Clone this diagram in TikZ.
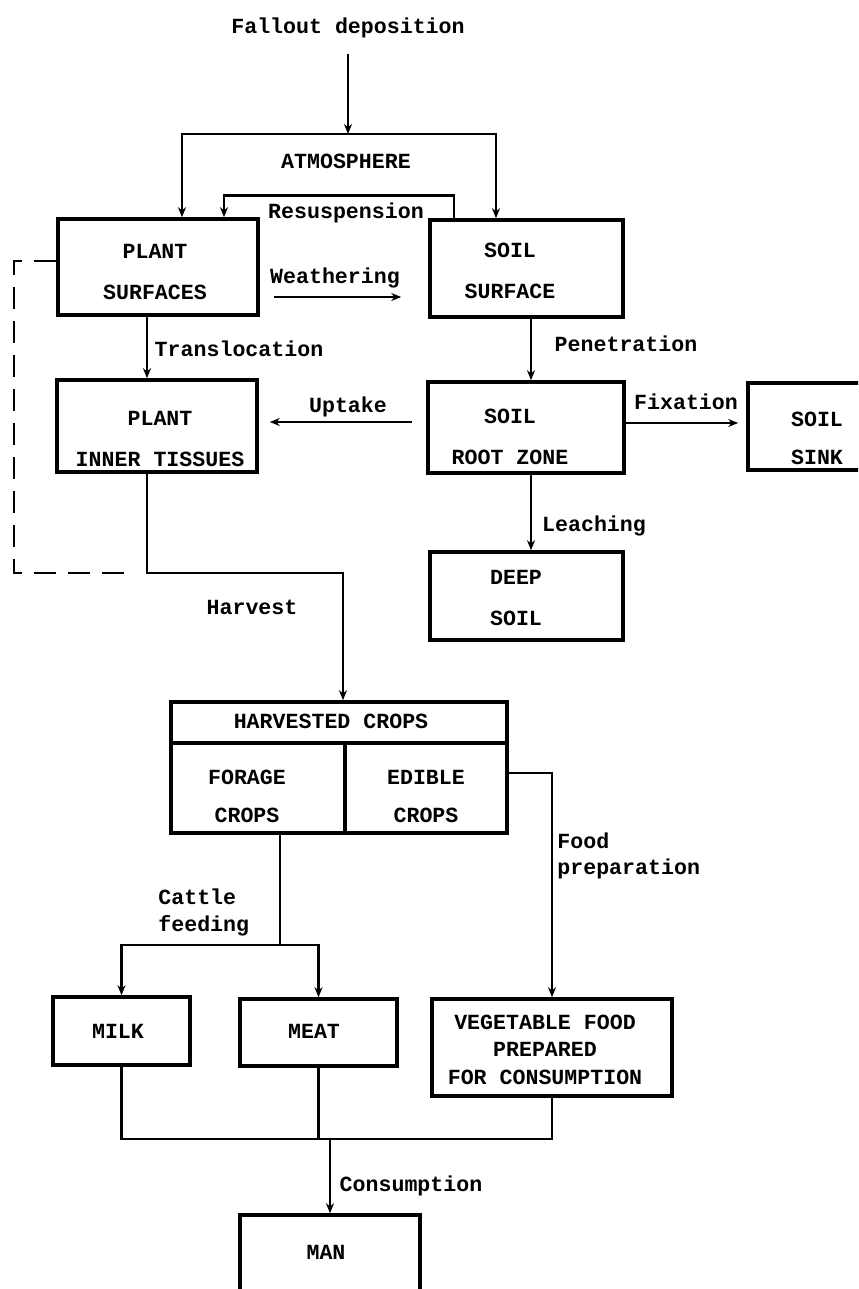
\documentclass[tikz,border=0pt]{standalone}
\usepackage{fontspec}
\newfontfamily\diagfont{Liberation Mono}
\usetikzlibrary{arrows.meta}
\begin{document}
\begin{tikzpicture}[x=0.5pt,y=-0.5pt,
  lsp/.style={font=\diagfont\bfseries\fontsize{10.8}{#1}\selectfont},
  every node/.style={lsp=20.5pt},
  box/.style={draw, line width=1.8pt, inner sep=0pt},
  txt/.style={inner sep=0pt, text height=6.2pt, text depth=0pt},
  mtxt/.style={inner sep=0pt, align=center},
  link/.style={line width=1.4pt},
  flow/.style={line width=1.4pt, -{Stealth[length=5pt,width=4pt]}},
  dashline/.style={line width=1.4pt, dash pattern=on 11pt off 6pt}]
\clip (0,0) rectangle (858,1289);
\fill[white] (0,0) rectangle (858,1289);

% boxes
\node[box, minimum width=100pt, minimum height=48pt] (psurf) at (158,267) {};
\node[box, minimum width=96.5pt, minimum height=48.5pt] (ssurf) at (526.5,268.5) {};
\node[box, minimum width=100pt, minimum height=46pt] (pin) at (157,426) {};
\node[box, minimum width=98pt, minimum height=45.5pt] (sroot) at (526,427.5) {};
\node[box, minimum width=69pt, minimum height=43.5pt] (sink) at (817,426.5) {};
\node[box, minimum width=96.5pt, minimum height=44pt] (deep) at (526.5,596) {};
\node[box, minimum width=168pt, minimum height=65.5pt] (harv) at (339,767.5) {};
\node[box, minimum width=68.5pt, minimum height=34pt] (milk) at (121.5,1031) {};
\node[box, minimum width=78.5pt, minimum height=33.5pt] (meat) at (318.5,1032.5) {};
\node[box, minimum width=120pt, minimum height=48.5pt] (veg) at (552,1047.5) {};
\node[box, minimum width=90pt, minimum height=57.5pt] (man) at (330,1272.5) {};

% texts
\node[txt] (fallT) at (348,27) {Fallout deposition};
\node[txt] (atmT) at (346,162) {ATMOSPHERE};
\node[txt] (resT) at (346,212) {Resuspension};
\node[mtxt] (psurfT) at (155,272) {PLANT\\SURFACES};
\node[txt] (weaT) at (335,277) {Weathering};
\node[mtxt] (ssurfT) at (510,270.5) {SOIL\\SURFACE};
\node[txt] (traT) at (239,350) {Translocation};
\node[mtxt] (pinT) at (160,438.5) {PLANT\\INNER TISSUES};
\node[txt] (uptT) at (348,406) {Uptake};
\node[txt] (penT) at (626,345) {Penetration};
\node[mtxt] (srootT) at (510,437) {SOIL\\ROOT ZONE};
\node[txt] (fixT) at (686,403) {Fixation};
\node[mtxt, lsp=19pt] (sinkT) at (817,438.5) {SOIL\\SINK};
\node[txt] (leaT) at (594,525) {Leaching};
\node[mtxt] (deepT) at (516,598) {DEEP\\SOIL};
\node[txt] (harT) at (252,608) {Harvest};
\node[txt] (hcT) at (331,722) {HARVESTED CROPS};
\node[mtxt, lsp=19pt] (forT) at (247,796) {FORAGE\\CROPS};
\node[mtxt, lsp=19pt] (ediT) at (426,796) {EDIBLE\\CROPS};
\node[mtxt, lsp=13pt, align=left, anchor=west] (foodT) at (557,856) {Food\\preparation};
\node[mtxt, lsp=13.5pt, align=left, anchor=west] (catT) at (158,912) {Cattle\\feeding};
\node[txt] (milkT) at (118,1032) {MILK};
\node[txt] (meatT) at (314,1032) {MEAT};
\node[mtxt, lsp=13.75pt] (vegT) at (545,1049.5) {VEGETABLE FOOD\\PREPARED\\FOR CONSUMPTION};
\node[txt] (consT) at (411,1185) {Consumption};
\node[txt] (manT) at (326,1253) {MAN};

% coordinates
\coordinate (atmC) at (348,134);
\coordinate (hc) at (147,573);
\coordinate (cf) at (280,945);
\coordinate (cons) at (330,1139);
\coordinate (hdiv) at (345,743);

% atmosphere
\draw[flow, shorten <=10pt] (fallT.south) -- (atmC);
\draw[flow] (atmC) -| ([xshift=12pt]psurf.north);
\draw[flow] (atmC) -| ([xshift=-15.25pt]ssurf.north);
% resuspension
\draw[flow] ([xshift=-36.25pt]ssurf.north) -- ++(0,-23) -| ([xshift=33pt]psurf.north);
% weathering
\draw[flow, shorten <=7pt, shorten >=13.5pt] (psurf.east |- 0,297) -- (ssurf.west |- 0,297);
% translocation
\draw[flow] (psurf.south -| hc) -- (pin.north -| hc);
% uptake
\draw[flow, shorten <=7pt, shorten >=5.5pt] (sroot.west |- 0,422) -- (pin.east |- 0,422);
% penetration
\draw[flow] (ssurf.south -| 531,0) -- (sroot.north -| 531,0);
% fixation
\draw[flow, shorten >=4pt] (sroot.east |- 0,423) -- (sink.west |- 0,423);
% leaching
\draw[flow] (sroot.south -| 531,0) -- (deep.north -| 531,0);
% dashed return
\draw[dashline] (psurf.west |- 0,261) -- (14,261) |- ([xshift=-7pt]hc);
% harvest
\draw[flow] (pin.south -| hc) -- (hc) -| ([xshift=2pt]harv.north);
% harvested crops inner lines
\draw[line width=1.8pt] (harv.west |- hdiv) -- (harv.east |- hdiv);
\draw[line width=1.8pt] (hdiv) -- (harv.south -| hdiv);
% food preparation
\draw[flow] (harv.east |- 0,773) -| (veg.north);
% cattle feeding
\draw[link] (harv.south -| cf) -- (cf);
\draw[flow] (cf) -| (milk.north);
\draw[flow] (cf) -| (meat.north);
% consumption
\draw[link] (milk.south) |- (cons);
\draw[link] (veg.south) |- (cons);
\draw[link] (meat.south) -- (meat.south |- cons);
\draw[flow] (cons) -- (man.north);
\end{tikzpicture}
\end{document}
